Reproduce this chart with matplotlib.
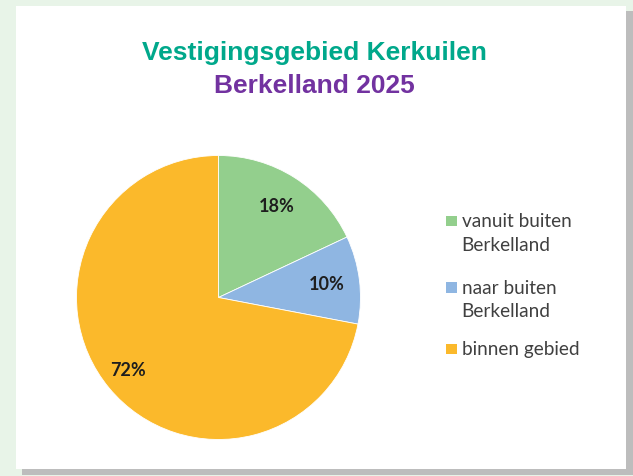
import matplotlib
matplotlib.use("Agg")
import matplotlib.pyplot as plt
from matplotlib.patches import Rectangle

categories = ["vanuit buiten\nBerkelland", "naar buiten\nBerkelland", "binnen gebied"]
values = [18, 10, 72]
colors = ["#93cf8d", "#8fb6e2", "#fbb92b"]
title1 = "Vestigingsgebied Kerkuilen"
title2 = "Berkelland 2025"

W, H = 633, 477
fig = plt.figure(figsize=(W / 100, H / 100), dpi=100)
fig.patch.set_facecolor("#e8f4e8")

def px(x, y, w, h):
    return (x / W, 1 - (y + h) / H, w / W, h / H)

# panel shadow and panel
sx, sy, sw, sh = px(22, 12, 611, 464)
fig.patches.append(Rectangle((sx, sy), sw, sh, transform=fig.transFigure,
                             facecolor="#bdbdbd", edgecolor="none", zorder=-2))
bx, by, bw, bh = px(16, 7, 610, 463)
fig.patches.append(Rectangle((bx, by), bw, bh, transform=fig.transFigure,
                             facecolor="#ffffff", edgecolor="none", zorder=-1))

fig.text(314 / W, 1 - 60 / H, title1, ha="center", va="baseline", fontsize=19,
         fontweight="bold", color="#00a88b", family="Liberation Sans")
fig.text(314 / W, 1 - 93.3 / H, title2, ha="center", va="baseline", fontsize=19,
         fontweight="bold", color="#7232a0", family="Liberation Sans")

ax = fig.add_axes(px(76.5, 156.5, 284, 284))
ax.set_zorder(1)
wedges, texts, autotexts = ax.pie(values, colors=colors, startangle=90, counterclock=False,
                                  autopct="%d%%", pctdistance=0.77,
                                  wedgeprops=dict(linewidth=0.6, edgecolor="white"),
                                  textprops=dict(fontsize=13, fontweight="bold",
                                                 color="#1e1e1e", family="Lato"))
ax.set_xlim(-1, 1)
ax.set_ylim(-1, 1)
ax.set_aspect("equal")
ax.axis("off")
# Excel best-fit position for the large slice label
autotexts[2].set_position((-0.64, -0.51))

# legend (Excel style: marker aligned with first text line)
entry_baselines = [227, 293.5, 355]
line_gap = 23.8
for label, color, yb in zip(categories, colors, entry_baselines):
    x0, y0, w0, h0 = px(446, yb - 10.5, 10.5, 10.5)
    fig.patches.append(Rectangle((x0, y0), w0, h0, transform=fig.transFigure,
                                 facecolor=color, edgecolor="none", zorder=2))
    for k, line in enumerate(label.split("\n")):
        fig.text(461.5 / W, 1 - (yb + k * line_gap) / H, line, ha="left", va="baseline",
                 fontsize=13.7, color="#404040", family="Lato")

fig.savefig("out.png", dpi=100, facecolor=fig.get_facecolor())
